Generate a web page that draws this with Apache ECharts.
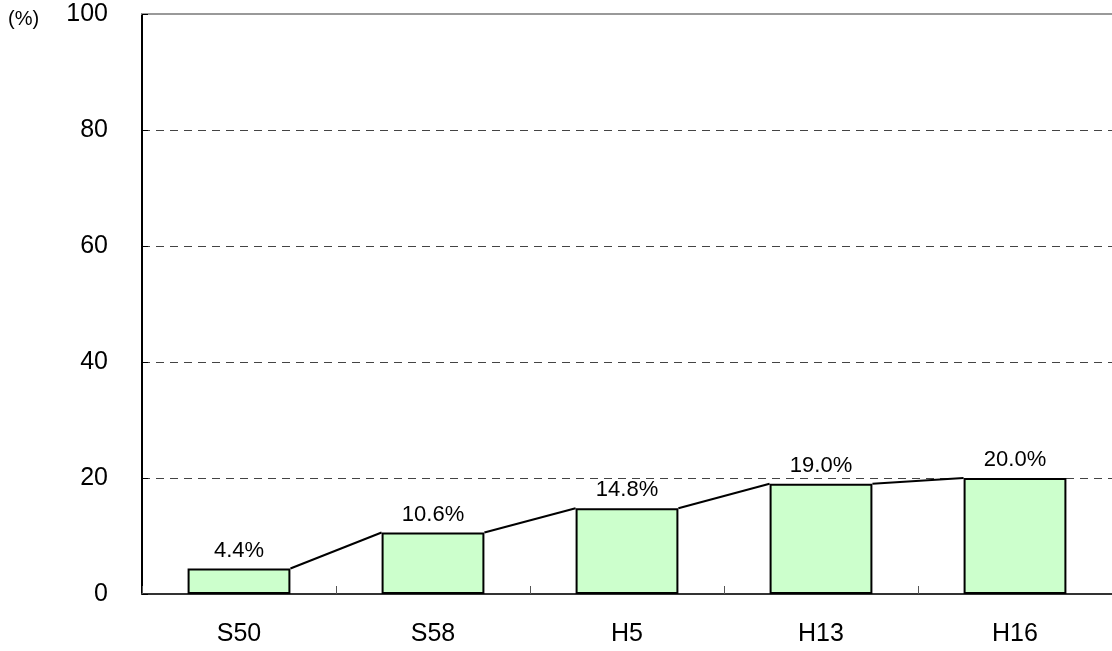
<!DOCTYPE html>
<html>
<head>
<meta charset="utf-8">
<script src="https://cdn.jsdelivr.net/npm/echarts@6/dist/echarts.min.js"></script>
<style>
  html, body { margin: 0; padding: 0; background: #fff; }
  #chart { width: 1112px; height: 651px; }
</style>
</head>
<body>
<div id="chart"></div>
<script>
// data
const categories = ['S50', 'S58', 'H5', 'H13', 'H16']
const values = [4.4, 10.6, 14.8, 19.0, 20.0]
const yMin = 0
const yMax = 100
const yStep = 20
const unitLabel = '(%)'

const BAR_FRAC = 0.53

// series lines: right top corner of one bar to left top corner of the next
const links = []
for (let i = 0; i < values.length - 1; i++) {
  links.push([i, values[i], values[i + 1]])
}

const chart = echarts.init(document.getElementById('chart'))
const font = "'Liberation Sans', Arial, sans-serif"

chart.setOption({
  animation: false,
  textStyle: { fontFamily: font },
  grid: { left: 142, right: 0, top: 14, bottom: 57 },
  graphic: [
    {
      type: 'text',
      left: 8,
      top: 9,
      style: { text: unitLabel, fontSize: 20, fontFamily: font, fill: '#000' }
    }
  ],
  xAxis: [
    {
      type: 'category',
      data: categories,
      axisLine: { lineStyle: { color: '#333', width: 2 } },
      axisTick: { show: true, inside: true, length: 8, lineStyle: { color: '#555', width: 1 } },
      axisLabel: { color: '#000', fontSize: 25, fontFamily: font, margin: 28 },
      splitLine: { show: false }
    },
    {
      type: 'category',
      position: 'top',
      data: categories,
      axisLine: { lineStyle: { color: '#999', width: 2 } },
      axisTick: { show: false },
      axisLabel: { show: false }
    }
  ],
  yAxis: {
    type: 'value',
    min: yMin,
    max: yMax,
    interval: yStep,
    axisLine: { show: true, lineStyle: { color: '#000', width: 2 } },
    axisTick: { show: true, inside: true, length: 6, lineStyle: { color: '#000' } },
    axisLabel: { color: '#000', fontSize: 25, fontFamily: font, margin: 34 },
    splitLine: {
      show: true,
      lineStyle: { color: '#444', type: [8, 6], width: 1 }
    }
  },
  series: [
    {
      type: 'bar',
      data: values,
      barWidth: (BAR_FRAC * 100) + '%',
      itemStyle: { color: '#ccffcc', borderColor: '#000', borderWidth: 2 },
      label: {
        show: true,
        position: 'top',
        distance: 7,
        color: '#000',
        fontSize: 22,
        fontFamily: font,
        formatter: p => p.value.toFixed(1) + '%'
      },
      z: 3
    },
    {
      type: 'custom',
      data: links,
      encode: { x: 0, y: 1 },
      z: 4,
      renderItem: (params, api) => {
        const i = api.value(0)
        const a = api.coord([i, api.value(1)])
        const b = api.coord([i + 1, api.value(2)])
        const half = api.size([1, 0])[0] * BAR_FRAC / 2
        return {
          type: 'line',
          shape: { x1: a[0] + half, y1: a[1], x2: b[0] - half, y2: b[1] },
          style: { stroke: '#000', lineWidth: 2 }
        }
      }
    }
  ]
})
</script>
</body>
</html>
